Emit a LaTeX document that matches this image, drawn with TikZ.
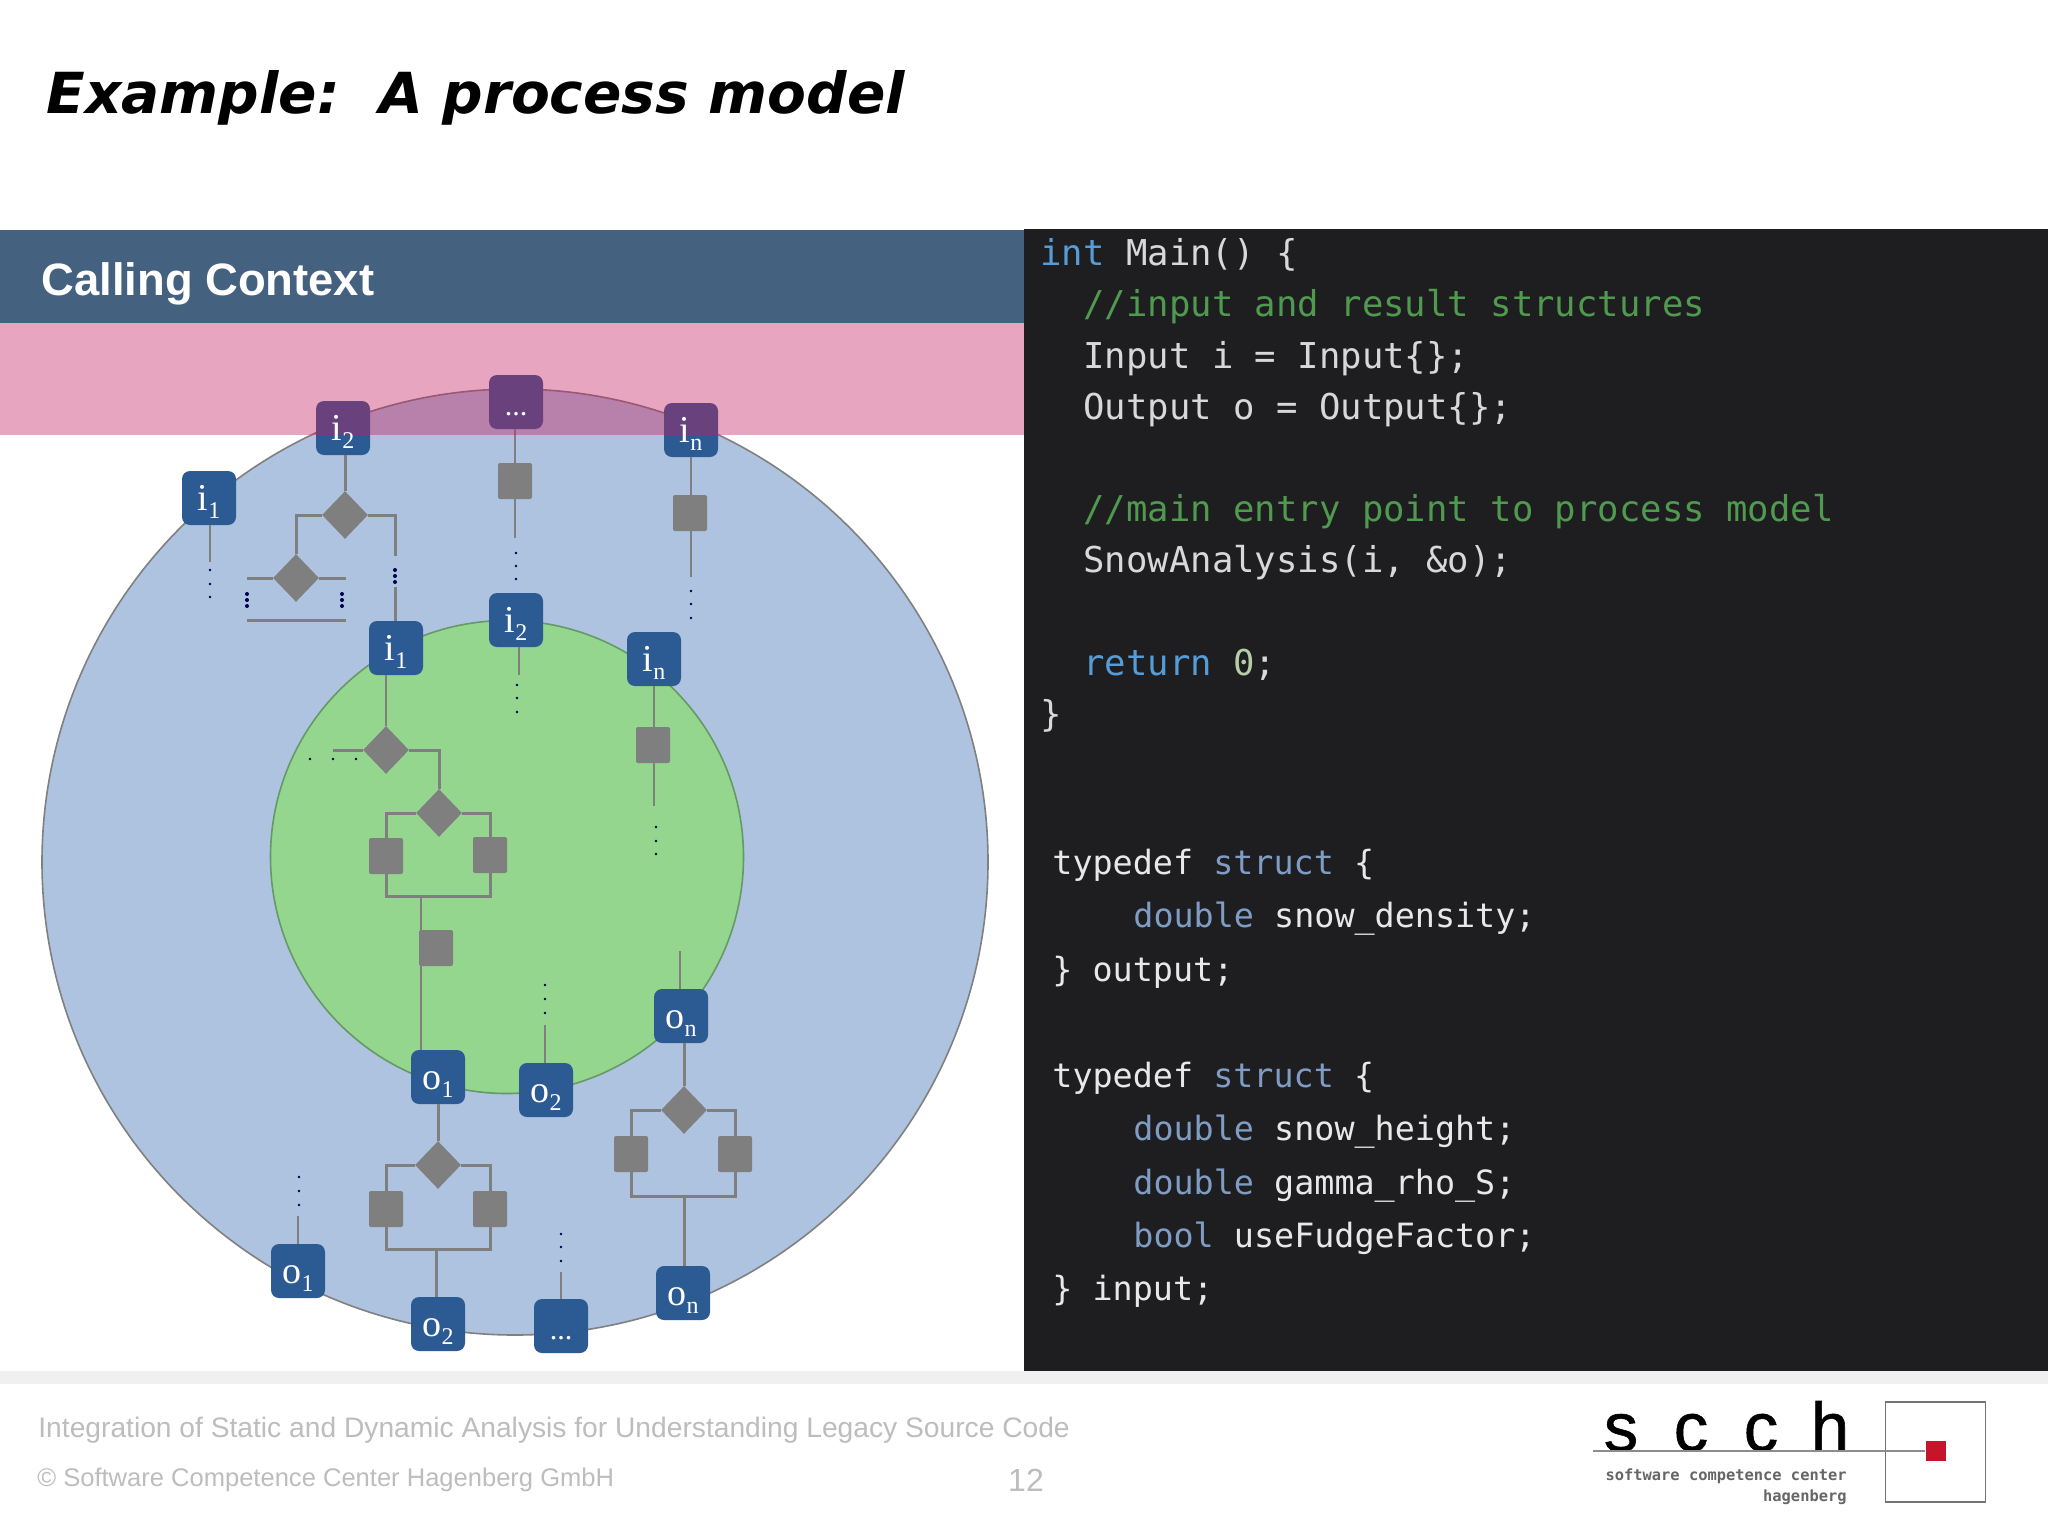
\documentclass[tikz,border=0pt]{standalone}
\usepackage{fontspec}
\usetikzlibrary{shapes.geometric}
\setmainfont{Liberation Sans}
\newfontfamily\titlefont{DejaVu Sans}
\newfontfamily\codefont{DejaVu Sans Mono}
\newfontfamily\portfont{Liberation Serif}
\newfontfamily\logofont[FakeBold=0.8]{Liberation Sans}
\definecolor{barblue}{HTML}{44627F}
\definecolor{pinkwash}{RGB}{197,30,95}
\definecolor{outerblue}{HTML}{AEC3E0}
\definecolor{innergreen}{HTML}{94D68E}
\definecolor{portblue}{HTML}{2C5A92}
\definecolor{flowgray}{HTML}{7F7F7F}
\definecolor{panel}{HTML}{1E1E20}
\definecolor{kwA}{HTML}{569CD6}
\definecolor{cmA}{HTML}{4F9A4F}
\definecolor{txA}{HTML}{D8D8D8}
\definecolor{numA}{HTML}{B5CEA8}
\definecolor{kwB}{HTML}{7F9CC4}
\definecolor{txB}{HTML}{E8E8E8}
\definecolor{foot}{HTML}{BDBDBD}
\definecolor{logored}{HTML}{C4152B}
\newcommand\pl[2]{\raisebox{-6pt}[0pt][0pt]{\portfont\fontsize{19}{19}\selectfont #1\raisebox{-.5ex}{\fontsize{12}{12}\selectfont #2}}}
\newcommand\pd{\raisebox{-6.5pt}[0pt][0pt]{\portfont\fontsize{15}{15}\selectfont ...}}
\tikzset{
  portbox/.style={fill=portblue,rounded corners=4pt,minimum size=27pt,inner sep=0pt,text=white},
  portlabel/.style={inner sep=0pt,text=white},
  taskbox/.style={fill=flowgray,rounded corners=1pt,minimum width=17pt,minimum height=18pt,inner sep=0pt},
  gate/.style={diamond,fill=flowgray,shape aspect=1,minimum width=23pt,minimum height=24pt,inner sep=0pt},
  flow/.style={draw=flowgray,line width=1.5pt},
  thinflow/.style={draw=flowgray,line width=1.3pt},
  dotmark/.style={fill=black!70!blue},
  codeA/.style={anchor=base west,inner sep=0pt,text=txA,font=\codefont\fontsize{17.8}{20}\selectfont},
  codeB/.style={anchor=base west,inner sep=0pt,text=txB,font=\codefont\fontsize{16.7}{20}\selectfont},
  footer/.style={anchor=base west,inner sep=0pt,text=foot,font=\fontsize{14.1}{16}\selectfont},
  logotext/.style={inner sep=0pt,text=black,font=\logofont\fontsize{34.5}{36}\selectfont},
  logosmall/.style={inner sep=0pt,text=black!60,font=\codefont\bfseries\fontsize{7.7}{9}\selectfont},
}
\begin{document}
\begin{tikzpicture}[x=0.5pt,y=-0.5pt]
\useasboundingbox (0,0) rectangle (2048,1536);
\fill[white] (0,0) rectangle (2048,1536);
% title
\node[anchor=base west,inner sep=0pt,font=\titlefont\bfseries\itshape\fontsize{28.3}{32}\selectfont] (title) at (46,113) {Example:\ \ A process model};
% bars
\fill[barblue] (0,230) rectangle (1024,323);
\node[anchor=base west,inner sep=0pt,text=white,font=\bfseries\fontsize{22.7}{26}\selectfont] (ctx) at (41,295) {Calling Context};
\fill[panel] (1024,229) rectangle (2048,1371);
\fill[black!6] (0,1371) rectangle (2048,1384);
% circles
\draw[fill=outerblue,draw=gray,line width=0.8pt] (515,862) circle (236.5pt);
\draw[fill=innergreen,draw=green!20!gray,line width=0.8pt] (507,857) circle (118.25pt);
% outer input ports
\node[portbox] (oi1) at (209,498) {\pl{i}{1}};
\node[portbox] (oi2) at (343,428) {};
\node[portbox] (oid) at (516,402) {};
\node[portbox] (oin) at (691,430) {};
% inner ports
\node[portbox] (ii1) at (396,648) {\pl{i}{1}};
\node[portbox] (ii2) at (516,620) {\pl{i}{2}};
\node[portbox] (iin) at (654,659) {\pl{i}{n}};
\node[portbox] (io1) at (438,1077) {\pl{o}{1}};
\node[portbox] (io2) at (546,1090) {\pl{o}{2}};
\node[portbox] (ion) at (681,1016) {\pl{o}{n}};
\node[portbox] (oo1) at (298,1271) {\pl{o}{1}};
\node[portbox] (oo2) at (438,1324) {\pl{o}{2}};
\node[portbox] (ood) at (561,1326) {\pd};
\node[portbox] (oon) at (683,1293) {\pl{o}{n}};
% gates
\node[gate] (d1) at (345,515) {};
\node[gate] (d2) at (296,578) {};
\node[gate] (d3) at (386,750) {};
\node[gate] (d4) at (439,813) {};
\node[gate] (d5) at (684,1110) {};
\node[gate] (d6) at (438,1165) {};
% tasks
\node[taskbox] (t1) at (515,481) {};
\node[taskbox] (t2) at (690,513) {};
\node[taskbox] (t3) at (653,745) {};
\node[taskbox] (t4) at (386,856) {};
\node[taskbox] (t5) at (490,855) {};
\node[taskbox] (t6) at (436,948) {};
\node[taskbox] (t7) at (631,1154) {};
\node[taskbox] (t8) at (735,1154) {};
\node[taskbox] (t9) at (386,1209) {};
\node[taskbox] (t10) at (490,1209) {};
% free line ends
\coordinate (e1) at (210,562);
\coordinate (e2) at (395,556);
\coordinate (e3) at (395,587);
\coordinate (e4) at (515,538);
\coordinate (e5) at (691,577);
\coordinate (e6) at (519,675);
\coordinate (e7) at (654,806);
\coordinate (e8) at (545,1025);
\coordinate (e9) at (680,951);
\coordinate (e10) at (298,1216);
\coordinate (e11) at (561,1272);
\coordinate (s1) at (333,750);
\coordinate (b1) at (421,896);
\coordinate (b2) at (684,1196);
\coordinate (b3) at (436,1249);
\coordinate (l1) at (247,578);
\coordinate (l2) at (346,578);
\coordinate (l3) at (247,620);
\coordinate (l4) at (346,620);
% connectors
\draw[thinflow] (oi1.south -| e1) -- (e1);
\draw[flow] (oi2.south -| d1) -- (d1.north);
\draw[flow] (d1.west) -| (d2.north);
\draw[flow] (d1.east) -| (e2);
\draw[flow] (e3) -- (e3 |- ii1.north);
\draw[flow] (l1) -- (d2.west);
\draw[flow] (d2.east) -- (l2);
\draw[flow] (l3) -- (l4);
\draw[thinflow] (oid.south -| e4) -- (e4);
\draw[thinflow] (oin.south -| e5) -- (e5);
\draw[thinflow] (ii1.south -| d3) -- (d3.north);
\draw[flow] (s1) -- (d3.west);
\draw[flow] (d3.east) -| (d4.north);
\draw[thinflow] (ii2.south -| e6) -- (e6);
\draw[thinflow] (iin.south -| e7) -- (e7);
\draw[flow] (d4.west) -| (t4.north);
\draw[flow] (d4.east) -| (t5.north);
\draw[flow] (t4.south) |- (b1) -| (t5.south);
\draw[thinflow] (b1) -- (b1 |- io1.north);
\draw[thinflow] (io2.north -| e8) -- (e8);
\draw[thinflow] (ion.north -| e9) -- (e9);
\draw[flow] (ion.south -| d5) -- (d5.north);
\draw[flow] (d5.west) -| (t7.north);
\draw[flow] (d5.east) -| (t8.north);
\draw[flow] (t7.south) |- (b2) -| (t8.south);
\draw[flow] (b2) -- (b2 |- oon.north);
\draw[flow] (io1.south) -- (d6.north);
\draw[flow] (d6.west) -| (t9.north);
\draw[flow] (d6.east) -| (t10.north);
\draw[flow] (t9.south) |- (b3) -| (t10.south);
\draw[flow] (b3) -- (b3 |- oo2.north);
\draw[thinflow] (oo1.north -| e10) -- (e10);
\draw[thinflow] (ood.north -| e11) -- (e11);
% dotted continuations
\foreach \px/\py in {210/570,210/584,210/597,516/553,516/566,516/579,691/591,691/604,691/618,517/685,517/698,517/712,310/759,333/759,356/759,656/827,656/841,656/854,545/985,545/999,545/1013,299/1177,299/1191,299/1205,561/1234,561/1247,561/1261}
  \fill[dotmark] (\px,\py) circle (0.7pt);
\foreach \px/\py in {395/570,395/576,395/582,247/594,247/600,247/606,342/594,342/600,342/606}
  \fill[dotmark] (\px,\py) circle (1pt);
% pink band
\fill[pinkwash,fill opacity=0.4] (0,323) rectangle (1024,435);
\node[portlabel] (oi2l) at (oi2) {\pl{i}{2}};
\node[portlabel] (oidl) at (oid) {\pd};
\node[portlabel] (oinl) at (oin) {\pl{i}{n}};
% code
\node[codeA] (a1) at (1040,265) {\textcolor{kwA}{int} Main() \{};
\node[codeA,text=cmA] (a2) at (1083,316) {//input and result structures};
\node[codeA] (a3) at (1083,368) {Input i = Input\{\};};
\node[codeA] (a4) at (1083,419) {Output o = Output\{\};};
\node[codeA,text=cmA] (a5) at (1083,521) {//main entry point to process model};
\node[codeA] (a6) at (1083,572) {SnowAnalysis(i, \&o);};
\node[codeA] (a7) at (1083,675) {\textcolor{kwA}{return} \textcolor{numA}{0};};
\node[codeA] (a8) at (1040,726) {\}};
\node[codeB] (b1l) at (1052,874) {typedef \textcolor{kwB}{struct} \{};
\node[codeB] (b2l) at (1133,927) {\textcolor{kwB}{double} snow\_density;};
\node[codeB] (b3l) at (1052,981) {\} output;};
\node[codeB] (b4l) at (1052,1087) {typedef \textcolor{kwB}{struct} \{};
\node[codeB] (b5l) at (1133,1140) {\textcolor{kwB}{double} snow\_height;};
\node[codeB] (b6l) at (1133,1194) {\textcolor{kwB}{double} gamma\_rho\_S;};
\node[codeB] (b7l) at (1133,1247) {\textcolor{kwB}{bool} useFudgeFactor;};
\node[codeB] (b8l) at (1052,1300) {\} input;};
% footer
\node[footer] (f1) at (38,1437) {Integration of Static and Dynamic Analysis for Understanding Legacy Source Code};
\node[footer,font=\fontsize{12.77}{16}\selectfont] (f2) at (37,1486) {© Software Competence Center Hagenberg GmbH};
\node[footer,anchor=base,font=\fontsize{16}{18}\selectfont] (f3) at (1026,1491) {12};
% logo
\node[logotext,anchor=base] (ls1) at (1621,1451) {s};
\node[logotext,anchor=base] (lc1) at (1691,1451) {c};
\node[logotext,anchor=base] (lc2) at (1761,1451) {c};
\node[logotext,anchor=base] (lh) at (1830,1451) {h};
\node[draw=black!55,line width=0.8pt,minimum size=50pt,inner sep=0pt] (lbox) at (1935.5,1452) {};
\node[fill=logored,minimum size=10pt,inner sep=0pt] (lred) at (1935.5,1451) {};
\coordinate (lstart) at (1593,1451);
\draw[draw=black!45,line width=0.7pt] (lstart) -- (lred.west);
\node[logosmall,anchor=east] (ll1) at (1847,1476) {software competence center};
\node[logosmall,anchor=east] (ll2) at (1847,1497) {hagenberg};
\end{tikzpicture}
\end{document}
